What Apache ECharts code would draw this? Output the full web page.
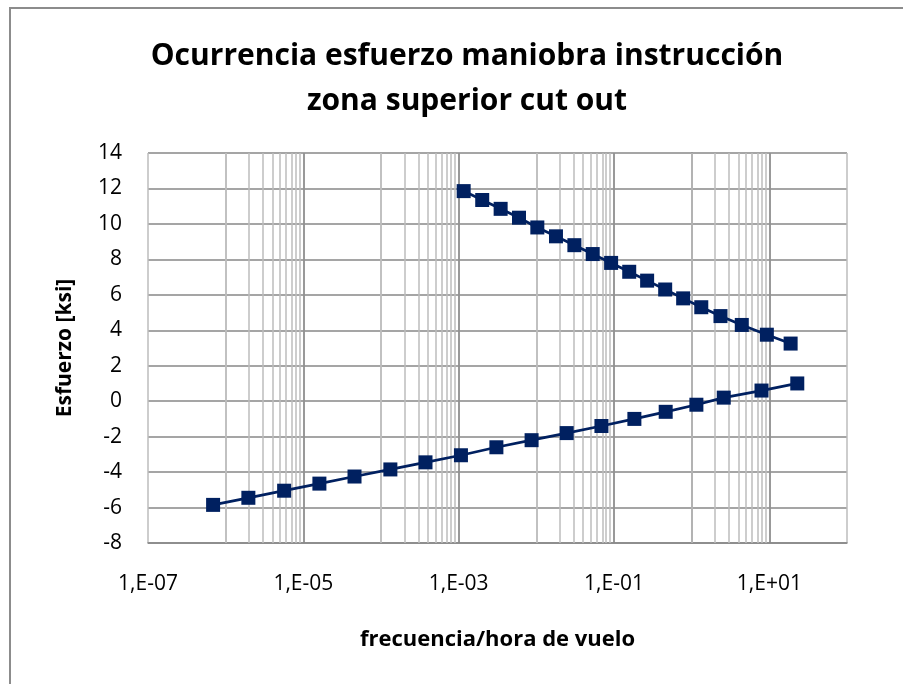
<!DOCTYPE html>
<html>
<head>
<meta charset="utf-8">
<style>
  html, body { margin: 0; padding: 0; background: #fff; }
  #chart { width: 903px; height: 684px; }
</style>
<script src="https://cdn.jsdelivr.net/npm/echarts@6/dist/echarts.min.js"></script>
</head>
<body>
<div id="chart"></div>
<script>
// frecuencias (por hora de vuelo) y esfuerzos [ksi]
const freqUpper = [1.16e-3, 2.01e-3, 3.47e-3, 5.98e-3, 1.03e-2, 1.79e-2, 3.09e-2, 5.32e-2, 9.18e-2,
  0.157, 0.267, 0.456, 0.777, 1.33, 2.35, 4.42, 9.29, 18.8]
const stressUpper = [11.85, 11.35, 10.85, 10.35, 9.8, 9.3, 8.8, 8.3, 7.8,
  7.3, 6.8, 6.3, 5.8, 5.3, 4.8, 4.3, 3.75, 3.25]

const freqLower = [6.89e-7, 1.96e-6, 5.66e-6, 1.61e-5, 4.56e-5, 1.32e-4, 3.74e-4, 1.07e-3, 3.06e-3,
  8.69e-3, 2.46e-2, 6.89e-2, 0.183, 0.463, 1.15, 2.59, 7.93, 22.9]
const stressLower = [-5.85, -5.45, -5.05, -4.65, -4.25, -3.85, -3.45, -3.05, -2.6,
  -2.2, -1.8, -1.4, -1.0, -0.6, -0.2, 0.2, 0.6, 1.0]

// eje x: exponentes decimales (escala logaritmica base 100, como en Excel)
const xMinExp = -7
const xMaxExp = 2
const labelExps = [-7, -5, -3, -1, 1]
const minorDecades = [-6, -4, -2, 0]

const yMin = -8
const yMax = 14
const yStep = 2

const fontFamily = '"Open Sans", "Noto Sans", sans-serif'
const navy = '#002060'
const darkGrid = '#878787'
const lightGrid = '#bdbdbd'

const toLog = (f) => Math.log10(f)
const pairs = (xs, ys) => xs.map((x, i) => [toLog(x), ys[i]])

// lineas secundarias: 1..9 x 10^e en las decadas intermedias
const minorLines = []
minorDecades.forEach((e) => {
  for (let k = 1; k <= 9; k++) minorLines.push({ xAxis: toLog(k * Math.pow(10, e)) })
})
const majorLines = labelExps.slice(1).map((e) => ({ xAxis: e }))

const fmtExp = (v) => {
  const e = Math.round(v)
  if (labelExps.indexOf(e) < 0) return ''
  const s = e < 0 ? '-' : '+'
  const a = Math.abs(e)
  return '1,E' + s + (a < 10 ? '0' + a : a)
}

const chart = echarts.init(document.getElementById('chart'))

const option = {
  animation: false,
  backgroundColor: '#fff',
  graphic: [{
    type: 'rect',
    z: -10,
    shape: { x: 10, y: 8, width: 1000, height: 1000 },
    style: { fill: 'none', stroke: '#8c8c8c', lineWidth: 2 }
  }],
  title: {
    text: 'Ocurrencia esfuerzo maniobra instrucción\nzona superior cut out',
    left: 462,
    top: 29,
    textAlign: 'center',
    textStyle: {
      fontFamily,
      fontSize: 30,
      fontWeight: 'bold',
      lineHeight: 45,
      color: '#000'
    }
  },
  grid: {
    left: 148,
    top: 153,
    width: 699,
    height: 390,
    containLabel: false
  },
  xAxis: {
    type: 'value',
    min: xMinExp,
    max: xMaxExp,
    interval: 1,
    name: 'frecuencia/hora de vuelo',
    nameLocation: 'middle',
    nameGap: 86,
    nameTextStyle: { fontFamily, fontSize: 22, fontWeight: 'bold', color: '#000' },
    axisLine: { show: true, onZero: false, lineStyle: { color: darkGrid, width: 1.5 } },
    axisTick: { show: false },
    axisLabel: {
      interval: 0,
      margin: 31,
      fontFamily,
      fontSize: 21,
      color: '#000',
      formatter: fmtExp
    },
    splitLine: { show: true, lineStyle: { color: lightGrid, width: 1.5 } }
  },
  yAxis: {
    type: 'value',
    min: yMin,
    max: yMax,
    interval: yStep,
    name: 'Esfuerzo [ksi]',
    nameLocation: 'middle',
    nameRotate: 90,
    nameGap: 72,
    nameTextStyle: { fontFamily, fontSize: 21, fontWeight: 'bold', color: '#000' },
    axisLine: { show: true, lineStyle: { color: darkGrid, width: 1.5 } },
    axisTick: { show: false },
    axisLabel: { margin: 26, fontFamily, fontSize: 21, color: '#000' },
    splitLine: { show: true, lineStyle: { color: darkGrid, width: 1.5 } }
  },
  series: [
    {
      // rejilla logaritmica: secundarias claras y principales oscuras
      type: 'line',
      data: [],
      silent: true,
      z: 1,
      markLine: {
        z: 1,
        silent: true,
        symbol: 'none',
        animation: false,
        label: { show: false },
        data: minorLines.map((d) => Object.assign({}, d, { lineStyle: { color: lightGrid, width: 1.5, type: 'solid' } }))
          .concat(majorLines.map((d) => Object.assign({}, d, { lineStyle: { color: darkGrid, width: 1.5, type: 'solid' } })))
      }
    },
    {
      name: 'superior',
      type: 'line',
      z: 3,
      data: pairs(freqUpper, stressUpper),
      symbol: 'rect',
      symbolSize: 14,
      itemStyle: { color: navy },
      lineStyle: { color: navy, width: 2.75 }
    },
    {
      name: 'inferior',
      type: 'line',
      z: 3,
      data: pairs(freqLower, stressLower),
      symbol: 'rect',
      symbolSize: 14,
      itemStyle: { color: navy },
      lineStyle: { color: navy, width: 2.75 }
    }
  ]
}

chart.setOption(option)
</script>
</body>
</html>
